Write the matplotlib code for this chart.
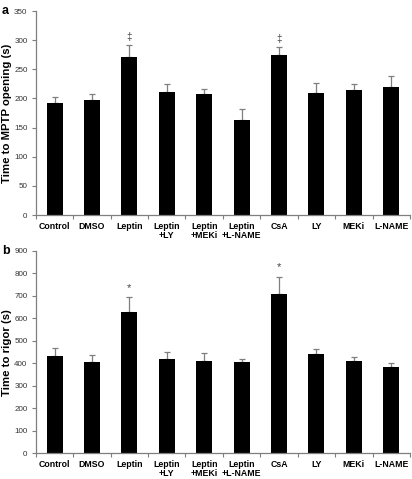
import matplotlib
matplotlib.use('Agg')
import matplotlib.pyplot as plt
import numpy as np

plt.rcParams['font.family'] = ['Liberation Sans', 'DejaVu Sans']

groups = ['Control', 'DMSO', 'Leptin', 'Leptin\n+LY', 'Leptin\n+MEKi',
          'Leptin\n+L-NAME', 'CsA', 'LY', 'MEKi', 'L-NAME']

# panel a: time to MPTP opening (s)
mptp_mean = [192, 198, 271, 211, 207, 163, 274, 209, 214, 220]
mptp_err = [11, 10, 20, 13, 10, 19, 15, 17, 10, 18]
mptp_marks = {2: '‡', 6: '‡'}

# panel b: time to rigor (s)
rigor_mean = [432, 405, 628, 420, 410, 405, 707, 440, 408, 383]
rigor_err = [35, 30, 65, 32, 37, 15, 78, 24, 22, 17]
rigor_marks = {2: '*', 6: '*'}

fig = plt.figure(figsize=(4.12, 4.79), dpi=100)
ax_a = fig.add_axes([0.087, 0.551, 0.908, 0.426])
ax_b = fig.add_axes([0.087, 0.054, 0.908, 0.422])

gray = '#7f7f7f'


def draw_panel(ax, means, errs, marks, ymax, ystep, ylabel, mark_gap, mark_size):
    x = np.arange(len(groups))
    ax.bar(x, means, width=0.43, color='black', zorder=2)
    ax.errorbar(x, means, yerr=[np.zeros(len(errs)), errs], fmt='none',
                ecolor=gray, elinewidth=0.9, capsize=2, capthick=0.9, zorder=1)
    for i, m in marks.items():
        ax.text(i, means[i] + errs[i] + mark_gap, m, ha='center', va='bottom',
                fontsize=mark_size, color='#444444')
    ax.set_xlim(-0.5, len(groups) - 0.5)
    ax.set_ylim(0, ymax)
    ax.set_yticks(np.arange(0, ymax + 1, ystep))
    for s in ['top', 'right']:
        ax.spines[s].set_visible(False)
    for s in ['left', 'bottom']:
        ax.spines[s].set_color(gray)
        ax.spines[s].set_linewidth(0.9)
    ax.set_xticks(np.arange(-0.5, len(groups)), minor=False)
    ax.set_xticklabels([])
    ax.set_xticks(x, minor=True)
    ax.set_xticklabels(groups, minor=True, fontsize=6.3, fontweight='bold',
                       linespacing=1.0)
    ax.tick_params(axis='x', which='major', length=3, color=gray, width=0.8)
    ax.tick_params(axis='x', which='minor', length=0, pad=5)
    ax.tick_params(axis='y', length=3, color=gray, width=0.8, labelsize=5.8,
                   labelcolor='#333333', pad=3)
    pos = ax.get_position()
    fig.text(7 / 412, (pos.y0 + pos.y1) / 2, ylabel, rotation=90,
             ha='center', va='center', fontsize=8.2, fontweight='bold')


draw_panel(ax_a, mptp_mean, mptp_err, mptp_marks, 350, 50,
           'Time to MPTP opening (s)', 5, 7)
draw_panel(ax_b, rigor_mean, rigor_err, rigor_marks, 900, 100,
           'Time to rigor (s)', 20, 8)

fig.text(0.005, 0.977, 'a', fontsize=9, fontweight='bold', va='center')
fig.text(0.005, 0.476, 'b', fontsize=9, fontweight='bold', va='center')

fig.savefig('out.png', dpi=100)
